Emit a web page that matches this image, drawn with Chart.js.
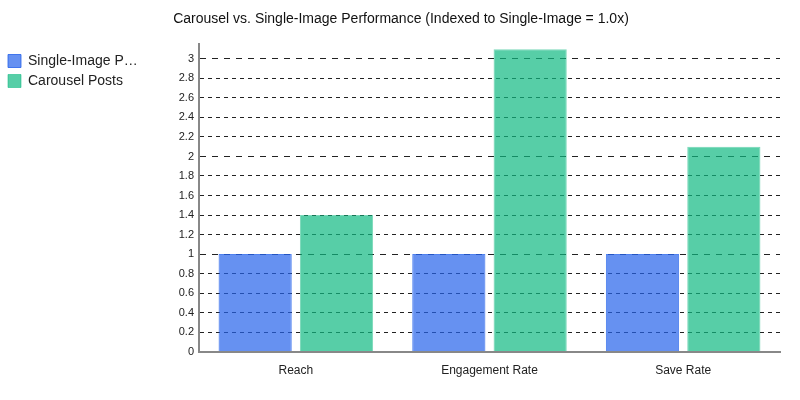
<!DOCTYPE html>
<html>
<head>
<meta charset="utf-8">
<script src="https://cdn.jsdelivr.net/npm/chart.js@4/dist/chart.umd.min.js"></script>
<style>
  html, body { margin: 0; padding: 0; background: #fff; }
  .wrap { width: 800px; height: 400px; position: relative; }
</style>
</head>
<body>
<div class="wrap"><canvas id="chart"></canvas></div>
<script>
// Chart data
const categories = ["Reach", "Engagement Rate", "Save Rate"];
const singleImage = [1.0, 1.0, 1.0];
const carousel = [1.4, 3.1, 2.1];
const seriesNames = ["Single-Image Posts", "Carousel Posts"];

// legend text gets cut like in the original
function shorten(text, n) {
  return text.length > n ? text.slice(0, n) + "\u2026" : text;
}

const ctx = document.getElementById("chart");
const font = "Liberation Sans, Arial, sans-serif";

new Chart(ctx, {
  type: "bar",
  data: {
    labels: categories,
    datasets: [
      {
        label: seriesNames[0],
        data: singleImage,
        backgroundColor: "rgba(37,99,235,0.7)",
        borderColor: "rgba(37,99,235,0.8)",
        borderWidth: 1,
        categoryPercentage: 0.84,
        barPercentage: 0.9,
      },
      {
        label: seriesNames[1],
        data: carousel,
        backgroundColor: "rgba(16,185,129,0.7)",
        borderColor: "rgba(16,185,129,0.55)",
        borderWidth: 1,
        categoryPercentage: 0.84,
        barPercentage: 0.9,
      },
    ],
  },
  options: {
    responsive: true,
    maintainAspectRatio: false,
    animation: false,
    layout: { padding: { top: 0, right: 0, bottom: 18, left: 2 } },
    plugins: {
      title: {
        display: true,
        text: "Carousel vs. Single-Image Performance (Indexed to Single-Image = 1.0x)",
        color: "#111",
        font: { family: font, size: 14, weight: "normal" },
        padding: { top: 11, bottom: 16 },
      },
      legend: {
        position: "left",
        align: "start",
        fullSize: false,
        maxWidth: 170,
        // blank title only to push the items a little lower
        title: { display: true, text: " ", font: { size: 1 }, padding: { top: 1.5, bottom: 1.5 } },
        labels: {
          color: "#222",
          font: { family: font, size: 14 },
          boxWidth: 13,
          boxHeight: 13,
          padding: 6,
          generateLabels: (chart) =>
            Chart.defaults.plugins.legend.labels.generateLabels(chart).map((l) => {
              l.text = shorten(l.text, 14);
              return l;
            }),
        },
      },
      tooltip: { enabled: false },
    },
    scales: {
      x: {
        grid: { display: false },
        border: { display: true, color: "#888", width: 2 },
        ticks: {
          color: "#222",
          font: { family: font, size: 12 },
          padding: 4,
        },
      },
      y: {
        min: 0,
        max: 3.155,
        afterBuildTicks: (scale) => {
          // keep the 0.2 steps only
          const t = [];
          for (let i = 0; i <= 15; i++) t.push({ value: Math.round(i * 2) / 10 });
          scale.ticks = t;
        },
        afterFit: (scale) => {
          const lg = scale.chart.legend;
          scale.width = 197 - (lg && lg.width ? lg.width : 147);
        },
        grid: {
          color: "#222",
          lineWidth: 1,
          drawTicks: false,
        },
        border: {
          display: true,
          color: "#888",
          width: 2,
          dash: (c) => {
            if (!c.tick) return [];
            return Number.isInteger(c.tick.value) ? [6, 6] : [4, 4];
          },
        },
        ticks: {
          color: "#222",
          font: { family: font, size: 11 },
          padding: 5,
          callback: (v) => String(v),
        },
      },
      // empty right axis, only keeps a margin on the right side
      yRight: {
        position: "right",
        display: true,
        grid: { display: false },
        border: { display: false },
        ticks: { display: false },
        afterFit: (scale) => {
          scale.width = 20;
        },
      },
    },
  },
});
</script>
</body>
</html>
